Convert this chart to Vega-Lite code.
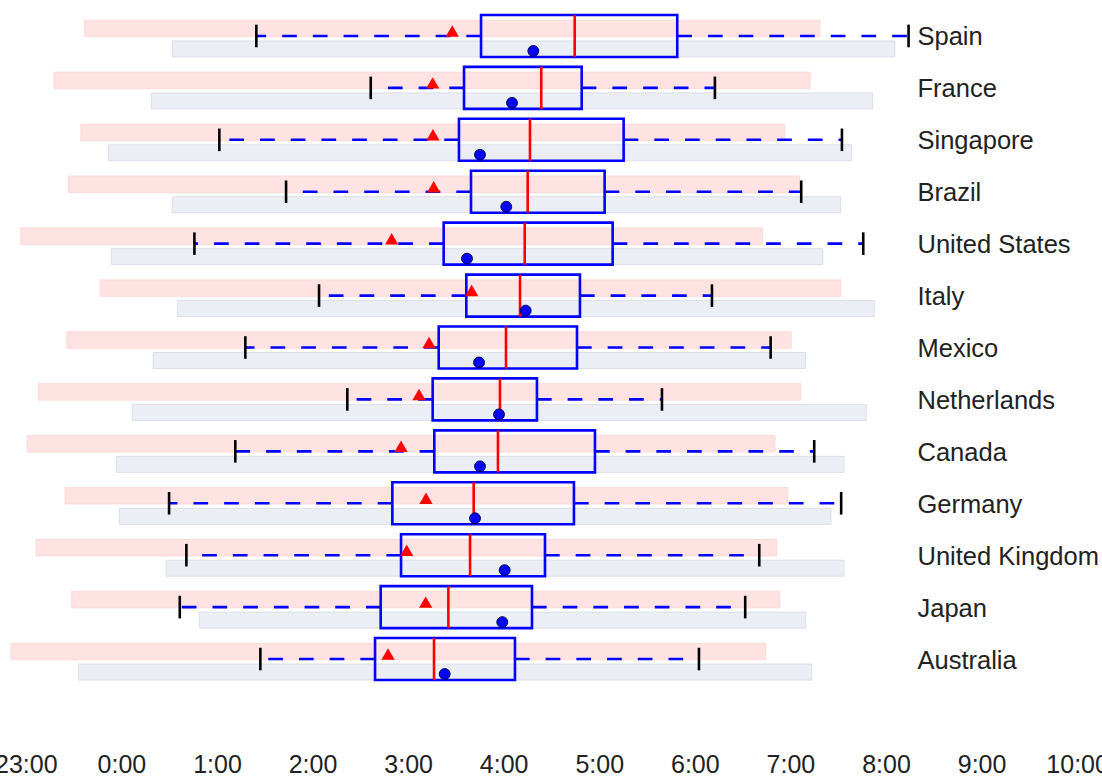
{
  "$schema": "https://vega.github.io/schema/vega-lite/v6.json",
  "width": 1102,
  "height": 675,
  "autosize": {"type": "none"},
  "padding": {"left": 0, "top": 10, "right": 0, "bottom": 91},
  "background": "white",
  "config": {"view": {"stroke": null}, "font": "Liberation Sans"},
  "data": {"values": [
    {"country": "Spain", "pink_lo": -0.387, "pink_hi": 7.309, "grey_lo": 0.533, "grey_hi": 8.093, "lo": 1.412, "q1": 3.763, "med": 4.743, "q3": 5.816, "hi": 8.236, "tri": 3.462, "circ": 4.310},
    {"country": "France", "pink_lo": -0.704, "pink_hi": 7.207, "grey_lo": 0.314, "grey_hi": 7.860, "lo": 2.609, "q1": 3.585, "med": 4.393, "q3": 4.816, "hi": 6.210, "tri": 3.257, "circ": 4.087},
    {"country": "Singapore", "pink_lo": -0.422, "pink_hi": 6.939, "grey_lo": -0.136, "grey_hi": 7.640, "lo": 1.025, "q1": 3.532, "med": 4.275, "q3": 5.255, "hi": 7.539, "tri": 3.260, "circ": 3.752},
    {"country": "Brazil", "pink_lo": -0.554, "pink_hi": 7.094, "grey_lo": 0.533, "grey_hi": 7.525, "lo": 1.723, "q1": 3.658, "med": 4.251, "q3": 5.056, "hi": 7.113, "tri": 3.268, "circ": 4.027},
    {"country": "United States", "pink_lo": -1.052, "pink_hi": 6.709, "grey_lo": -0.105, "grey_hi": 7.340, "lo": 0.764, "q1": 3.372, "med": 4.220, "q3": 5.140, "hi": 7.762, "tri": 2.828, "circ": 3.616},
    {"country": "Italy", "pink_lo": -0.223, "pink_hi": 7.528, "grey_lo": 0.586, "grey_hi": 7.877, "lo": 2.068, "q1": 3.609, "med": 4.171, "q3": 4.798, "hi": 6.179, "tri": 3.665, "circ": 4.230},
    {"country": "Mexico", "pink_lo": -0.571, "pink_hi": 7.008, "grey_lo": 0.332, "grey_hi": 7.159, "lo": 1.297, "q1": 3.320, "med": 4.024, "q3": 4.767, "hi": 6.793, "tri": 3.219, "circ": 3.742},
    {"country": "Netherlands", "pink_lo": -0.868, "pink_hi": 7.107, "grey_lo": 0.115, "grey_hi": 7.793, "lo": 2.364, "q1": 3.257, "med": 3.961, "q3": 4.348, "hi": 5.656, "tri": 3.114, "circ": 3.951},
    {"country": "Canada", "pink_lo": -0.986, "pink_hi": 6.838, "grey_lo": -0.052, "grey_hi": 7.560, "lo": 1.192, "q1": 3.274, "med": 3.940, "q3": 4.955, "hi": 7.249, "tri": 2.926, "circ": 3.752},
    {"country": "Germany", "pink_lo": -0.589, "pink_hi": 6.974, "grey_lo": -0.021, "grey_hi": 7.424, "lo": 0.499, "q1": 2.835, "med": 3.686, "q3": 4.735, "hi": 7.531, "tri": 3.187, "circ": 3.700},
    {"country": "United Kingdom", "pink_lo": -0.892, "pink_hi": 6.859, "grey_lo": 0.468, "grey_hi": 7.560, "lo": 0.680, "q1": 2.926, "med": 3.648, "q3": 4.432, "hi": 6.674, "tri": 2.985, "circ": 4.010},
    {"country": "Japan", "pink_lo": -0.519, "pink_hi": 6.890, "grey_lo": 0.816, "grey_hi": 7.159, "lo": 0.611, "q1": 2.713, "med": 3.421, "q3": 4.296, "hi": 6.527, "tri": 3.184, "circ": 3.985},
    {"country": "Australia", "pink_lo": -1.154, "pink_hi": 6.741, "grey_lo": -0.450, "grey_hi": 7.222, "lo": 1.454, "q1": 2.654, "med": 3.271, "q3": 4.118, "hi": 6.043, "tri": 2.790, "circ": 3.383}
  ]},
  "encoding": {
    "y": {
      "field": "country", "type": "nominal", "sort": null,
      "scale": {"paddingInner": 0, "paddingOuter": 0},
      "axis": {"orient": "right", "offset": -185, "title": null, "domain": false, "ticks": false, "tickSize": 0, "labelPadding": 0, "labelOffset": 1.5, "labelFontSize": 25.5, "labelColor": "#222222", "labelFont": "Liberation Sans", "labelAlign": "left", "labelBaseline": "middle", "labelLimit": 400}
    }
  },
  "layer": [
    {
      "mark": {"type": "bar", "height": 16.4, "yOffset": -7.5, "fill": "#ffe3e3", "stroke": "#ffd8d8", "strokeWidth": 1},
      "encoding": {
        "x": {"field": "pink_lo", "type": "quantitative",
          "scale": {"domain": [-1.27, 10.26], "nice": false, "zero": false},
          "axis": {"title": null, "values": [-1, 0, 1, 2, 3, 4, 5, 6, 7, 8, 9, 10], "labelExpr": "((datum.value + 24) % 24) + ':00'", "domain": false, "ticks": false, "tickSize": 0, "grid": false, "labelPadding": 0, "offset": 87, "labelBaseline": "alphabetic", "labelFontSize": 25, "labelColor": "#222222", "labelFont": "Liberation Sans", "labelFlush": false, "labelOverlap": false}},
        "x2": {"field": "pink_hi"}
      }
    },
    {
      "mark": {"type": "bar", "height": 16, "yOffset": 13, "fill": "#eceef5", "stroke": "#dcdfe8", "strokeWidth": 1},
      "encoding": {
        "x": {"field": "grey_lo", "type": "quantitative"},
        "x2": {"field": "grey_hi"}
      }
    },
    {
      "mark": {"type": "rule", "color": "#0000ff", "strokeWidth": 2.6, "strokeDash": [14.7, 16]},
      "encoding": {
        "x": {"field": "q1", "type": "quantitative"},
        "x2": {"field": "lo"}
      }
    },
    {
      "mark": {"type": "rule", "color": "#0000ff", "strokeWidth": 2.6, "strokeDash": [14.7, 16]},
      "encoding": {
        "x": {"field": "q3", "type": "quantitative"},
        "x2": {"field": "hi"}
      }
    },
    {
      "mark": {"type": "tick", "orient": "vertical", "color": "#000000", "size": 22.6, "thickness": 2.6, "opacity": 1},
      "encoding": {"x": {"field": "lo", "type": "quantitative"}}
    },
    {
      "mark": {"type": "tick", "orient": "vertical", "color": "#000000", "size": 22.6, "thickness": 2.6, "opacity": 1},
      "encoding": {"x": {"field": "hi", "type": "quantitative"}}
    },
    {
      "mark": {"type": "bar", "height": 42, "fill": null, "fillOpacity": 0, "stroke": "#0000ff", "strokeWidth": 2.6},
      "encoding": {
        "x": {"field": "q1", "type": "quantitative"},
        "x2": {"field": "q3"}
      }
    },
    {
      "mark": {"type": "tick", "orient": "vertical", "color": "#ff0000", "size": 42, "thickness": 2.6, "opacity": 1},
      "encoding": {"x": {"field": "med", "type": "quantitative"}}
    },
    {
      "mark": {"type": "point", "shape": "triangle-up", "filled": true, "fill": "#ff0000", "size": 175, "opacity": 1, "yOffset": -5},
      "encoding": {"x": {"field": "tri", "type": "quantitative"}}
    },
    {
      "mark": {"type": "point", "shape": "circle", "filled": true, "fill": "#0000ff", "stroke": "#000050", "strokeWidth": 1, "size": 118, "opacity": 1, "yOffset": 15},
      "encoding": {"x": {"field": "circ", "type": "quantitative"}}
    }
  ]
}
